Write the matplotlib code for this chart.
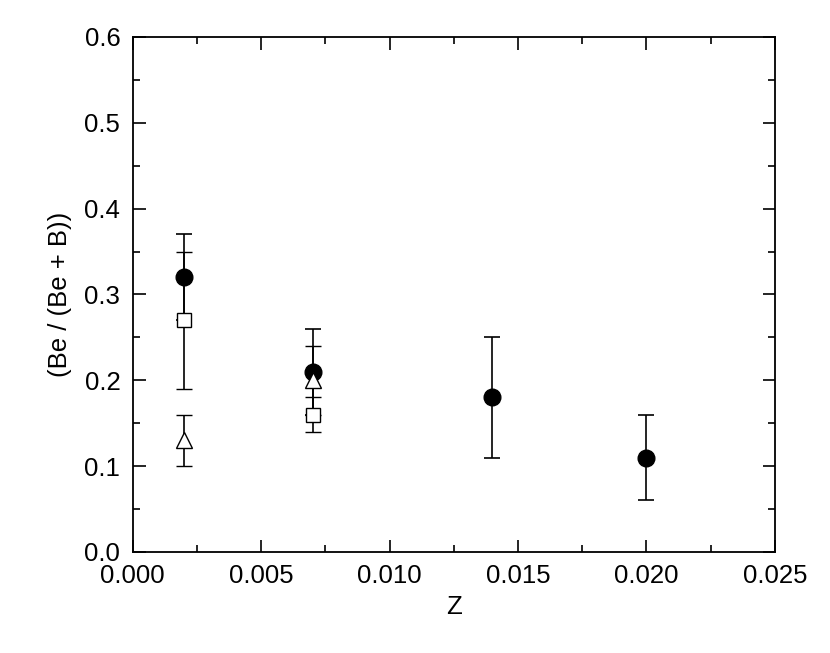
import matplotlib.pyplot as plt
from matplotlib.ticker import MultipleLocator

plt.rcParams['font.family'] = ['Liberation Sans', 'DejaVu Sans']

# filled circles
zCircle = [0.002, 0.007, 0.014, 0.020]
ratioCircle = [0.32, 0.21, 0.18, 0.11]
errCircle = [0.05, 0.05, 0.07, 0.05]

# open squares
zSquare = [0.002, 0.007]
ratioSquare = [0.27, 0.16]
errSquare = [0.08, 0.02]

# open triangles
zTriangle = [0.002, 0.007]
ratioTriangle = [0.13, 0.20]
errTriangle = [0.03, 0.04]

fig = plt.figure(figsize=(8.3, 6.53), dpi=100)
ax = fig.add_axes([0.160, 0.1547, 0.7735, 0.7887])

common = dict(ecolor='black', elinewidth=1.2, capsize=6, capthick=1.2, linestyle='none')
ax.errorbar(zCircle, ratioCircle, yerr=errCircle, marker='o', markersize=12,
            markerfacecolor='black', markeredgecolor='black', **common)
ax.errorbar(zSquare, ratioSquare, yerr=errSquare, marker='s', markersize=10,
            markerfacecolor='white', markeredgecolor='black', markeredgewidth=1.0, **common)
ax.errorbar(zTriangle, ratioTriangle, yerr=errTriangle, marker='^', markersize=12,
            markerfacecolor='white', markeredgecolor='black', markeredgewidth=1.0, **common)

ax.set_xlim(0, 0.025)
ax.set_ylim(0, 0.6)
ax.xaxis.set_major_locator(MultipleLocator(0.005))
ax.xaxis.set_minor_locator(MultipleLocator(0.0025))
ax.yaxis.set_major_locator(MultipleLocator(0.1))
ax.yaxis.set_minor_locator(MultipleLocator(0.05))
ax.xaxis.set_major_formatter(plt.FormatStrFormatter('%.3f'))
ax.yaxis.set_major_formatter(plt.FormatStrFormatter('%.1f'))

ax.tick_params(which='both', direction='in', top=True, right=True, width=1.2, labelsize=18.5)
ax.tick_params(which='major', length=9)
ax.tick_params(axis='x', which='major', pad=9)
ax.tick_params(axis='y', which='major', pad=9)
ax.tick_params(which='minor', length=5)
for spine in ax.spines.values():
    spine.set_linewidth(1.3)

ax.set_xlabel('Z', fontsize=18.5, labelpad=5)
ax.set_ylabel('(Be / (Be + B))', fontsize=18.5, labelpad=9)

fig.savefig('out.png', dpi=100)
